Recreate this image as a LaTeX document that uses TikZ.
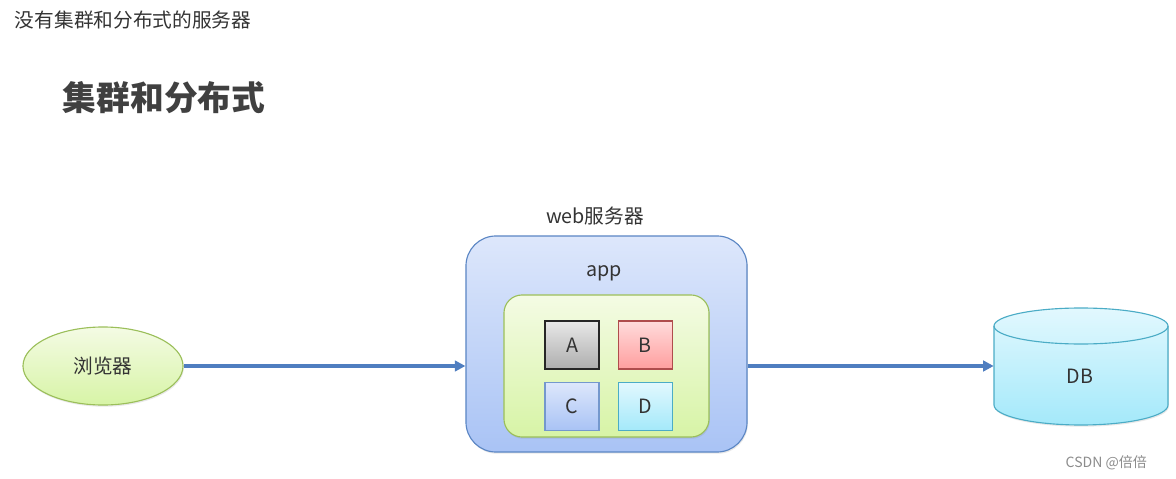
\documentclass[tikz,border=0pt]{standalone}
\usepackage{fontspec}
\setmainfont{Noto Sans CJK SC}
\usetikzlibrary{positioning,arrows.meta,shapes.geometric,shadows}
\definecolor{ink}{HTML}{333333}
\definecolor{arrowblue}{HTML}{4F7EC0}
\definecolor{boxline}{HTML}{5B86C4}
\definecolor{boxtop}{HTML}{DDE7FB}
\definecolor{boxbottom}{HTML}{A9C3F5}
\definecolor{leafline}{HTML}{9BBF5A}
\definecolor{leaftop}{HTML}{F4FBE4}
\definecolor{leafbottom}{HTML}{D7F4A6}
\definecolor{cyanline}{HTML}{4BACC6}
\definecolor{cyantop}{HTML}{E2F8FE}
\definecolor{cyanbottom}{HTML}{A4E9FA}

\begin{document}
\begin{tikzpicture}[x=0.025cm,y=-0.025cm,text=ink,font=\fontsize{14}{16}\selectfont,
  soft/.style={drop shadow={opacity=0.18,shadow xshift=0.6pt,shadow yshift=-1.2pt}},
  part/.style={draw,line width=0.9pt,minimum width=1.35cm,minimum height=1.2cm,inner sep=0pt},
  arr/.style={-{Triangle[length=7.5pt,width=7.5pt]},line width=2.4pt,draw=arrowblue}]
\useasboundingbox (0,0) rectangle (1176,479);
\node[anchor=west] (caption) at (10,20) {没有集群和分布式的服务器};
\node[anchor=west,font=\fontsize{24}{28}\selectfont\bfseries,text=black!75] (title) at (58,98) {集群和分布式};
% browser
\node[ellipse,soft,draw=leafline,line width=0.8pt,top color=leaftop,bottom color=leafbottom,minimum width=4cm,minimum height=1.95cm] (browser) at (103,366) {浏览器};
% web server with app
\node[soft,draw=boxline,line width=0.8pt,rounded corners=0.75cm,top color=boxtop,bottom color=boxbottom,minimum width=7.025cm,minimum height=5.4cm] (server) at (606.5,344) {};
\node (servername) at (595,216) {web服务器};
\node (appname) at (604,273) {app};
\node[soft,draw=leafline,line width=0.8pt,rounded corners=0.45cm,top color=leaftop,bottom color=leafbottom,minimum width=5.125cm,minimum height=3.55cm] (app) at (606.5,366) {};
\node[part,draw=black!85,top color=black!9,bottom color=black!32] (a) at (572,345) {A};
\node[part,draw=red!55!black!70,top color=red!14,bottom color=red!38,right=0.45cm of a] (b) {B};
\node[part,draw=boxline!85,top color=boxtop,bottom color=boxbottom,below=0.3cm of a] (c) {C};
\node[part,draw=cyanline,top color=cyantop,bottom color=cyanbottom,below=0.3cm of b] (d) {D};
% database
\path[soft,draw=cyanline,line width=0.8pt,top color=cyantop,bottom color=cyanbottom]
  (994,326) -- (994,405) arc[start angle=180,end angle=0,x radius=87,y radius=20]
  -- (1168,326) arc[start angle=0,end angle=-180,x radius=87,y radius=18] -- cycle;
\draw[cyanline,line width=0.8pt] (994,326) arc[start angle=180,end angle=0,x radius=87,y radius=18];
\node[minimum width=4.35cm,minimum height=2.925cm] (db) at (1081,372) {};
\node (dbname) at (1080,376) {DB};
\draw[arr] (browser.east) -- (browser.east -| server.west);
\draw[arr] (browser.east -| server.east) -- (browser.east -| db.west);
\node[anchor=east,font=\fontsize{10}{11}\selectfont,text=black!45] (mark) at (1152,463) {CSDN @倍倍};
\end{tikzpicture}
\end{document}
